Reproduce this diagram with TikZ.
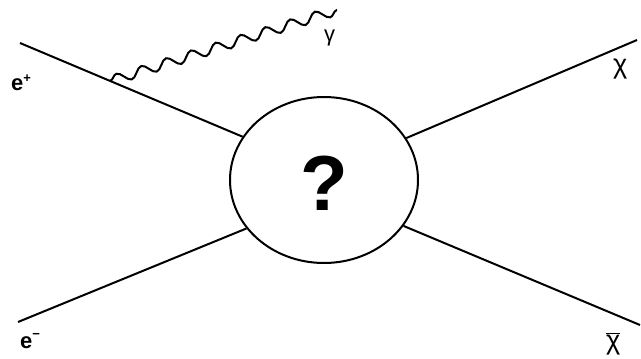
\documentclass[tikz,border=0pt]{standalone}
\usepackage{fontspec}
\setmainfont{Liberation Sans}
\usetikzlibrary{shapes.geometric,decorations.pathmorphing,calc}
\tikzset{
  leg/.style={line width=2pt, black},
  blobstyle/.style={ellipse, draw, line width=2pt, minimum width=188pt, minimum height=166pt, inner sep=0pt},
  photon/.style={line width=2pt, decorate, decoration={snake, segment length=26pt, amplitude=5pt}},
  lbl/.style={inner sep=0pt, anchor=base west, font=\fontsize{22}{24}\selectfont},
  chilbl/.style={inner sep=0pt, anchor=base west, font=\fontsize{27}{28}\selectfont},
}
\begin{document}
\begin{tikzpicture}[x=1pt,y=-1pt]
\useasboundingbox (0,0) rectangle (641,359);
\node[blobstyle] (blob) at (324,180) {};
\node[inner sep=0pt, anchor=base, font=\bfseries\fontsize{78}{80}\selectfont] (q) at (324,210) {?};
\coordinate (ep) at (20,43);
\coordinate (em) at (18,322);
\coordinate (chi) at (637,40);
\coordinate (chibar) at (640,325);
\draw[leg] (ep) -- (blob.152);
\draw[leg] (em) -- (blob.212);
\draw[leg] (chi) -- (blob.27);
\draw[leg] (chibar) -- (blob.330);
\coordinate (vtx) at ($(ep)!0.405!(blob.152)$);
\coordinate (gend) at (337,10);
\draw[photon] (vtx) -- (gend);
\node[lbl, font=\bfseries\fontsize{22}{24}\selectfont] (lep) at (11,90) {e\raisebox{0.35em}{\fontsize{13}{14}\selectfont+}};
\node[lbl, font=\bfseries\fontsize{22}{24}\selectfont] (lem) at (20,348) {e\raisebox{0.45em}{\fontsize{13}{14}\selectfont\textminus}};
\node[lbl] (lgam) at (324,41) {γ};
\node[chilbl] (lchi) at (613,73) {χ};
\node[chilbl] (lchib) at (606,349) {$\overline{\hbox{\fontsize{27}{28}\selectfont χ}}$};
\end{tikzpicture}
\end{document}
